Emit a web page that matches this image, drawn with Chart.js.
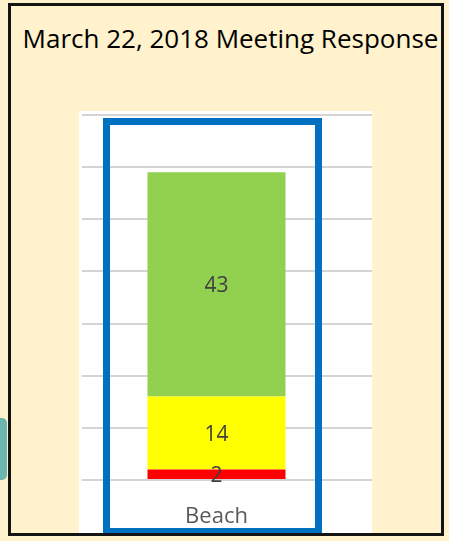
<!DOCTYPE html>
<html>
<head>
<meta charset="utf-8">
<script src="https://cdn.jsdelivr.net/npm/chart.js@4/dist/chart.umd.min.js"></script>
<style>
  html, body { margin: 0; padding: 0; }
  body { width: 449px; height: 541px; background: #FFF2CC; position: relative; overflow: hidden; font-family: 'Open Sans', sans-serif; }
  #title { position: absolute; left: 8px; top: 20px; width: 445px; text-align: center; font-size: 26px; color: #000; white-space: nowrap; }
  #plot { position: absolute; left: 79px; top: 111px; width: 293px; height: 424px; background: #fff; }
  #frame { position: absolute; left: 103px; top: 118px; width: 219px; height: 417px; box-sizing: border-box; border: 7px solid #0070C0; }
  #border { position: absolute; left: 8px; top: 3px; width: 436px; height: 533px; box-sizing: border-box; border: 3px solid #141414; }
  #blob { position: absolute; left: 0; top: 418px; width: 7px; height: 62px; background: #6DB5AF; border-radius: 0 5px 5px 0; }
</style>
</head>
<body>
<div id="blob"></div>
<div id="title">March 22, 2018 Meeting Response</div>
<div id="plot"><canvas id="chart"></canvas></div>
<div id="frame"></div>
<div id="border"></div>
<script>
const categories = ['Beach'];
const redValues = [2];
const yellowValues = [14];
const greenValues = [43];
const yMax = 70;
const yStep = 10;

const labelColor = '#404040';
const gridColor = '#D4D4D4';

Chart.defaults.font.family = "'Open Sans', sans-serif";

// draw the value in the middle of each stacked segment
const segmentLabels = {
    id: 'segmentLabels',
    afterDatasetsDraw(chart) {
        const ctx = chart.ctx;
        ctx.save();
        ctx.fillStyle = labelColor;
        ctx.font = "21px 'Open Sans', sans-serif";
        ctx.textAlign = 'center';
        ctx.textBaseline = 'middle';
        chart.data.datasets.forEach((ds, i) => {
            chart.getDatasetMeta(i).data.forEach((bar, j) => {
                const p = bar.getProps(['x', 'y', 'base'], true);
                ctx.fillText(String(ds.data[j]), p.x, (p.y + p.base) / 2 + 2);
            });
        });
        ctx.restore();
    }
};

new Chart(document.getElementById('chart').getContext('2d'), {
    type: 'bar',
    data: {
        labels: categories,
        datasets: [
            { label: 'Red', data: redValues, backgroundColor: '#FF0000' },
            { label: 'Yellow', data: yellowValues, backgroundColor: '#FFFF00' },
            { label: 'Green', data: greenValues, backgroundColor: '#92D050' }
        ]
    },
    options: {
        responsive: true,
        maintainAspectRatio: false,
        animation: false,
        layout: { padding: { top: 4, left: 3, right: 0, bottom: 0 } },
        datasets: { bar: { barPercentage: 0.513, categoryPercentage: 1, borderWidth: 0 } },
        plugins: { legend: { display: false }, tooltip: { enabled: false } },
        scales: {
            x: {
                stacked: true,
                grid: { display: false },
                border: { display: false },
                ticks: { color: '#595959', font: { size: 22 }, padding: 16 },
                afterFit: s => { s.height = 55; }
            },
            y: {
                stacked: true,
                position: 'right',
                min: 0,
                max: yMax,
                ticks: { stepSize: yStep, display: false },
                grid: { color: gridColor, lineWidth: 2, drawTicks: true, tickLength: 21 },
                border: { display: false },
                afterFit: s => { s.width = 21; }
            }
        }
    },
    plugins: [segmentLabels]
});
</script>
</body>
</html>
